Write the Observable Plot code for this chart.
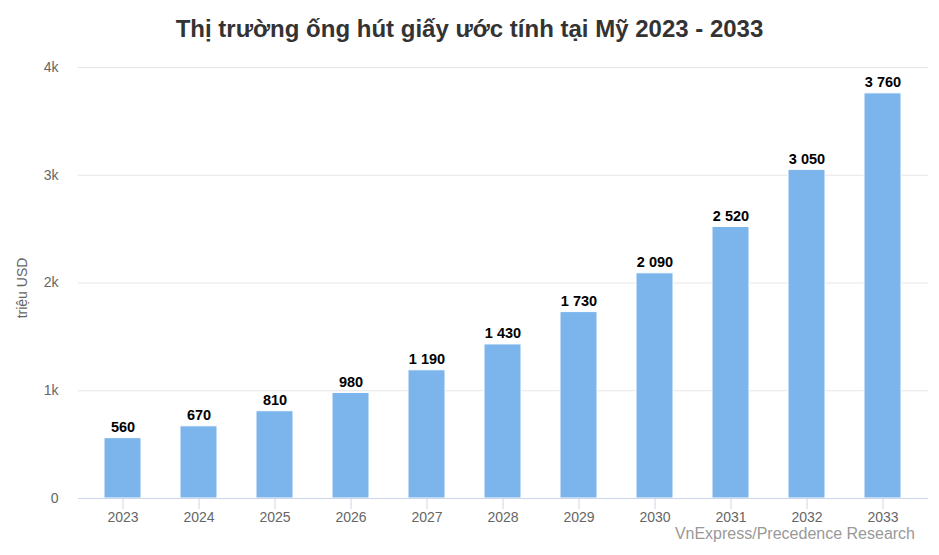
<!DOCTYPE html>
<html>
<head>
<meta charset="utf-8">
<script src="https://cdn.jsdelivr.net/npm/d3@7"></script>
<script src="https://cdn.jsdelivr.net/npm/@observablehq/plot@0.6"></script>
<style>
  html, body { margin: 0; padding: 0; background: #fff; }
  #wrap { position: relative; width: 939px; height: 555px; font-family: "Liberation Sans", Arial, sans-serif; }
  #title { position: absolute; top: 14px; left: 0; width: 939px; text-align: center; font-size: 24px; font-weight: bold; color: #333; line-height: 30px; }
  #credit { position: absolute; right: 24px; top: 524px; font-size: 16px; color: #999; line-height: 19px; }
  #chart { position: absolute; top: 0; left: 0; }
</style>
</head>
<body>
<div id="wrap">
  <div id="chart"></div>
  <div id="title">Thị trường ống hút giấy ước tính tại Mỹ 2023 - 2033</div>
  <div id="credit">VnExpress/Precedence Research</div>
</div>
<script>
const years = ["2023","2024","2025","2026","2027","2028","2029","2030","2031","2032","2033"];
const values = [560, 670, 810, 980, 1190, 1430, 1730, 2090, 2520, 3050, 3760];
const yTicks = [0, 1000, 2000, 3000, 4000];
const yTickLabels = ["0", "1k", "2k", "3k", "4k"];
const yAxisTitle = "triệu USD";

const data = years.map((y, i) => ({year: y, value: values[i]}));
const fmt = d3.formatLocale({decimal: ",", thousands: " ", grouping: [3], currency: ["", ""]}).format(",");

const chart = Plot.plot({
  width: 939,
  height: 555,
  marginTop: 67,
  marginBottom: 57,
  marginLeft: 78,
  marginRight: 11,
  style: {fontFamily: '"Liberation Sans", Arial, sans-serif', background: "transparent"},
  x: {domain: years, paddingInner: 0.51, paddingOuter: 0.255, insetLeft: 7, insetRight: 7, label: null},
  y: {domain: [0, 4000], label: null},
  marks: [
    Plot.ruleY(yTicks.slice(1), {stroke: "#e6e6e6", strokeWidth: 1}),
    Plot.barY(data, {x: "year", y: "value", fill: "#7cb5ec", stroke: "#fff", strokeWidth: 1}),
    Plot.ruleY([0], {stroke: "#ccd6eb", strokeWidth: 1}),
    Plot.axisX({tickSize: 11, tickPadding: 3, stroke: "#ccd6eb", fill: "#666", fontSize: 14, label: null}),
    Plot.axisY({ticks: yTicks, tickFormat: (d, i) => yTickLabels[yTicks.indexOf(d)], tickSize: 0, tickPadding: 20, fill: "#666", fontSize: 14, label: null}),
    Plot.text([yAxisTitle], {frameAnchor: "left", textAnchor: "middle", dx: -56, dy: 5, rotate: -90, fill: "#666", fontSize: 14}),
    Plot.text(data, {x: "year", y: "value", text: d => fmt(d.value), lineAnchor: "bottom", dy: -6, fill: "#000", fontWeight: "bold", fontSize: 14.5})
  ]
});
document.getElementById("chart").appendChild(chart);
</script>
</body>
</html>
